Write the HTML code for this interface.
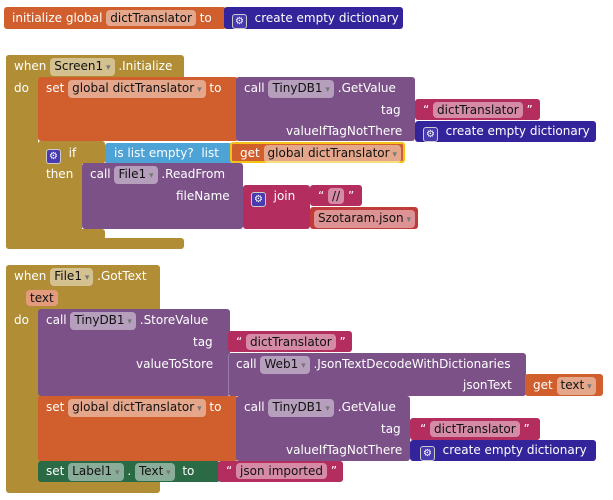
<!DOCTYPE html>
<html><head><meta charset="utf-8"><style>
body{margin:0;width:613px;height:500px;background:#fff;position:relative;overflow:hidden;font-family:"DejaVu Sans","Liberation Sans",sans-serif;font-size:12px;color:#fff}
.b{position:absolute;border-radius:3px}
.t{position:absolute;white-space:nowrap;line-height:20px;height:20px}
.f{display:inline-block;background:rgba(255,255,255,.45);color:#111;border-radius:4px;padding:0 4px;line-height:16px}
.dd:after{content:" ▾";font-size:9px;color:#777}
.g{display:inline-block;width:13px;height:13px;border:1px solid #ccc;border-radius:3px;background:#4a3ab0;font-size:10px;line-height:13px;text-align:center;vertical-align:-2px}
.O{background:#d05f2d}.D{background:#33249c}.M{background:#b18e35}.P{background:#7b5188}.K{background:#b32d5e}.L{background:#4ea3d6}.G{background:#2a6a45}
</style></head><body>
<!-- block 1 -->
<div class="b O" style="left:4px;top:7px;width:222px;height:22px"></div>
<div class="b D" style="left:224px;top:7px;width:179px;height:22px"></div>
<div class="t" style="left:12px;top:8px">initialize global <span class="f">dictTranslator</span> to</div>
<div class="t" style="left:232px;top:8px"><span class="g">⚙</span>&nbsp; create empty dictionary</div>

<!-- block 2 -->
<div class="b M" style="left:6px;top:55px;width:178px;height:24px"></div>
<div class="b M" style="left:6px;top:55px;width:32px;height:194px"></div>
<div class="b M" style="left:6px;top:238px;width:178px;height:11px"></div>
<div class="t" style="left:14px;top:56px">when <span class="f dd">Screen1</span> .Initialize</div>
<div class="t" style="left:14px;top:78px">do</div>
<div class="b O" style="left:38px;top:77px;width:200px;height:64px"></div>
<div class="b P" style="left:236px;top:77px;width:179px;height:64px"></div>
<div class="t" style="left:46px;top:78px">set <span class="f dd">global dictTranslator</span> to</div>
<div class="t" style="left:244px;top:78px">call <span class="f dd">TinyDB1</span> .GetValue</div>
<div class="t" style="left:381px;top:100px">tag</div>
<div class="t" style="left:286px;top:121px">valueIfTagNotThere</div>
<div class="b K" style="left:415px;top:99px;width:125px;height:21px"></div>
<div class="t" style="left:423px;top:100px">“ <span class="f">dictTranslator</span> ”</div>
<div class="b D" style="left:415px;top:121px;width:181px;height:21px"></div>
<div class="t" style="left:423px;top:121px"><span class="g">⚙</span>&nbsp; create empty dictionary</div>
<div class="b M" style="left:38px;top:141px;width:67px;height:23px"></div>
<div class="b M" style="left:38px;top:141px;width:44px;height:99px"></div>
<div class="b M" style="left:38px;top:229px;width:67px;height:11px"></div>
<div class="t" style="left:46px;top:143px"><span class="g">⚙</span>&nbsp; if</div>
<div class="t" style="left:46px;top:164px">then</div>
<div class="b L" style="left:105px;top:143px;width:127px;height:21px"></div>
<div class="t" style="left:114px;top:143px">is list empty?&nbsp; list</div>
<div class="b O" style="left:230px;top:142px;width:175px;height:21px;border:2px solid #f3c31a;box-sizing:border-box"></div>
<div class="t" style="left:240px;top:143px">get <span class="f dd">global dictTranslator</span></div>
<div class="b P" style="left:82px;top:163px;width:161px;height:66px"></div>
<div class="t" style="left:90px;top:164px">call <span class="f dd">File1</span> .ReadFrom</div>
<div class="t" style="left:176px;top:186px">fileName</div>
<div class="b K" style="left:243px;top:185px;width:67px;height:44px"></div>
<div class="t" style="left:251px;top:186px"><span class="g">⚙</span>&nbsp; join</div>
<div class="b K" style="left:310px;top:185px;width:52px;height:21px"></div>
<div class="t" style="left:318px;top:186px">“ <span class="f">//</span> ”</div>
<div class="b" style="left:310px;top:207px;width:108px;height:22px;background:#c23b3b"></div>
<div class="t" style="left:314px;top:208px"><span class="f dd">Szotaram.json</span></div>

<!-- block 3 -->
<div class="b M" style="left:6px;top:265px;width:154px;height:228px"></div>
<div class="t" style="left:14px;top:266px">when <span class="f dd">File1</span> .GotText</div>
<div class="t" style="left:26px;top:288px"><span class="f" style="background:#e49a7c">text</span></div>
<div class="t" style="left:14px;top:310px">do</div>
<div class="b P" style="left:38px;top:309px;width:192px;height:87px"></div>
<div class="t" style="left:46px;top:310px">call <span class="f dd">TinyDB1</span> .StoreValue</div>
<div class="t" style="left:193px;top:332px">tag</div>
<div class="t" style="left:136px;top:354px">valueToStore</div>
<div class="b K" style="left:228px;top:331px;width:124px;height:21px"></div>
<div class="t" style="left:236px;top:332px">“ <span class="f">dictTranslator</span> ”</div>
<div class="b P" style="left:228px;top:353px;width:297px;height:43px;border-left:1px solid #9a7aa6"></div>
<div class="t" style="left:236px;top:354px">call <span class="f dd">Web1</span> .JsonTextDecodeWithDictionaries</div>
<div class="t" style="left:463px;top:375px">jsonText</div>
<div class="b O" style="left:525px;top:374px;width:78px;height:22px"></div>
<div class="t" style="left:533px;top:375px">get <span class="f dd">text</span></div>
<div class="b O" style="left:38px;top:396px;width:200px;height:65px"></div>
<div class="b P" style="left:236px;top:396px;width:174px;height:65px"></div>
<div class="t" style="left:46px;top:397px">set <span class="f dd">global dictTranslator</span> to</div>
<div class="t" style="left:244px;top:397px">call <span class="f dd">TinyDB1</span> .GetValue</div>
<div class="t" style="left:381px;top:419px">tag</div>
<div class="t" style="left:286px;top:440px">valueIfTagNotThere</div>
<div class="b K" style="left:410px;top:418px;width:130px;height:22px"></div>
<div class="t" style="left:420px;top:419px">“ <span class="f">dictTranslator</span> ”</div>
<div class="b D" style="left:410px;top:440px;width:186px;height:21px"></div>
<div class="t" style="left:420px;top:440px"><span class="g">⚙</span>&nbsp; create empty dictionary</div>
<div class="b G" style="left:38px;top:461px;width:182px;height:21px"></div>
<div class="t" style="left:46px;top:461px">set <span class="f dd">Label1</span> . <span class="f dd">Text</span>&nbsp; to</div>
<div class="b K" style="left:218px;top:461px;width:125px;height:21px"></div>
<div class="t" style="left:226px;top:461px">“ <span class="f">json imported</span> ”</div>
</body></html>
